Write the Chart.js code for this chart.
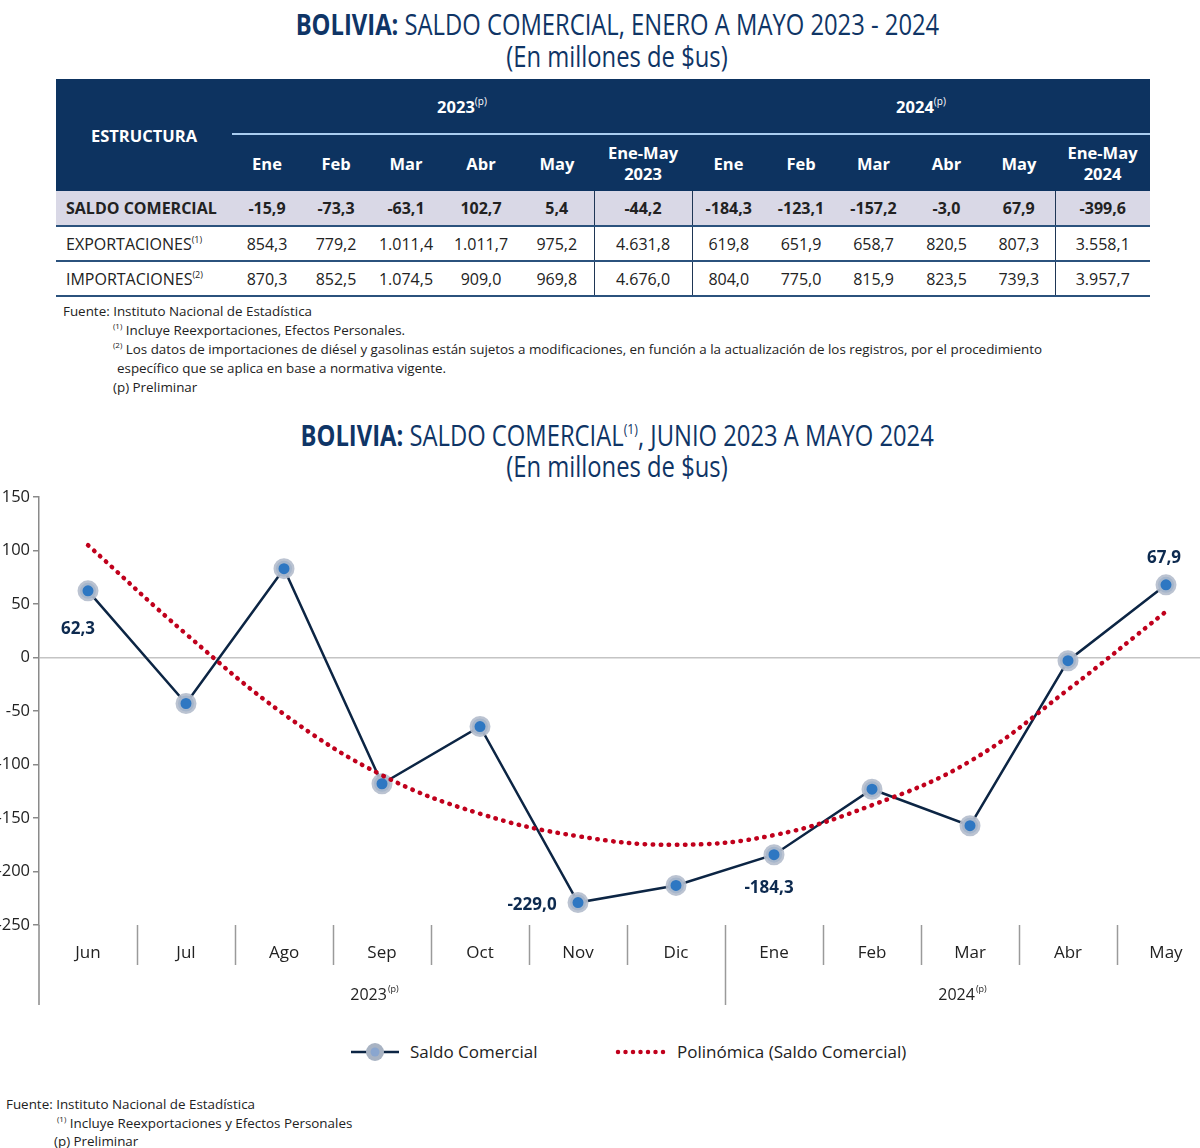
<!DOCTYPE html>
<html lang="es">
<head>
<meta charset="utf-8">
<title>Bolivia: Saldo Comercial</title>
<script src="https://cdn.jsdelivr.net/npm/chart.js@4.4.1/dist/chart.umd.min.js"></script>
<style>
  html, body { margin: 0; padding: 0; }
  body { width: 1200px; height: 1148px; overflow: hidden; position: relative; background: #fff;
         font-family: 'Open Sans', sans-serif; color: #222; }
  .title { position: absolute; left: 0; width: 1234px; text-align: center; color: #0f3566;
           font-size: 29px; line-height: 32px; white-space: nowrap; }
  .title .sq { display: inline-block; transform: scaleX(0.82); transform-origin: center; }
  .title sup { font-size: 15px; vertical-align: 12px; line-height: 0; }
  sup { line-height: 0; }

  #tabla { position: absolute; left: 56px; top: 79px; width: 1094px; border-collapse: collapse;
           table-layout: fixed; font-size: 16px; }
  #tabla th { background: #0d3360; color: #fff; font-weight: 700; font-size: 16.5px; padding: 0; }
  #tabla th sup { font-size: 10px; font-weight: 400; vertical-align: 8px; }
  #tabla tr.h1 th { height: 54px; }
  #tabla th.yr { border-bottom: 2px solid #a9cdf0; }
  #tabla tr.h2 th { height: 56px; line-height: 21px; }
  #tabla td { text-align: center; height: 33px; padding: 0; border-bottom: 2px solid #2b527d; }
  #tabla td.name { text-align: left; padding-left: 10px; white-space: nowrap; }
  #tabla td.name sup { font-size: 9px; vertical-align: 7px; }
  #tabla tr.saldo td { background: #d9d8e6; font-weight: 700; height: 34px; }
  #tabla td.vl { border-left: 1.5px solid #1f3655; }

  .notes { position: absolute; font-size: 13.4px; line-height: 19px; white-space: nowrap; color: #222; }
  .notes div { position: relative; }
  .notes sup { font-size: 8px; vertical-align: 6px; }

  #chartBox { position: absolute; left: -10px; top: 480px; width: 1238px; height: 540px; }

  .legend { position: absolute; top: 1040px; left: 0; width: 1200px; height: 24px; font-size: 17px; }
  .legend .item { position: absolute; top: 0; height: 24px; line-height: 24px; white-space: nowrap; }
  .legend svg { position: absolute; top: 2px; }
</style>
</head>
<body>

<div class="title" style="top:8px"><span class="sq"><b>BOLIVIA:</b> SALDO COMERCIAL, ENERO A MAYO 2023 - 2024</span></div>
<div class="title" style="top:40px"><span class="sq">(En millones de $us)</span></div>

<table id="tabla"></table>

<div class="notes" style="left:63px; top:302px;">
  <div>Fuente: Instituto Nacional de Estadística</div>
  <div style="left:50px"><sup>(1)</sup> Incluye Reexportaciones, Efectos Personales.</div>
  <div style="left:50px"><sup>(2)</sup> Los datos de importaciones de diésel y gasolinas están sujetos a modificaciones, en función a la actualización de los registros, por el procedimiento</div>
  <div style="left:54px">específico que se aplica en base a normativa vigente.</div>
  <div style="left:50px">(p) Preliminar</div>
</div>

<div class="title" style="top:419px"><span class="sq"><b>BOLIVIA:</b> SALDO COMERCIAL<sup>(1)</sup>, JUNIO 2023 A MAYO 2024</span></div>
<div class="title" style="top:450px"><span class="sq">(En millones de $us)</span></div>

<div id="chartBox"><canvas id="chart-main"></canvas></div>

<div class="legend">
  <div class="item" style="left:351px">
    <svg width="48" height="20" viewBox="0 0 48 20">
      <line x1="0" y1="10" x2="48" y2="10" stroke="#0c2544" stroke-width="2.5"/>
      <circle cx="24" cy="10" r="9" fill="#a8b3c3"/>
      <circle cx="24" cy="10" r="4.5" fill="#8aa6cf"/>
    </svg>
    <span style="margin-left:59px">Saldo Comercial</span>
  </div>
  <div class="item" style="left:615px">
    <svg width="54" height="20" viewBox="0 0 54 20">
      <line x1="3" y1="10" x2="51" y2="10" stroke="#c0001c" stroke-width="4.5" stroke-linecap="round" stroke-dasharray="0 7.5"/>
    </svg>
    <span style="margin-left:62px">Polinómica (Saldo Comercial)</span>
  </div>
</div>

<div class="notes" style="left:6px; top:1095px; line-height:18.5px;">
  <div>Fuente: Instituto Nacional de Estadística</div>
  <div style="left:51px"><sup>(1)</sup> Incluye Reexportaciones y Efectos Personales</div>
  <div style="left:48px">(p) Preliminar</div>
</div>

<script>
// ---- table data ----
const tablaMeses = ['Ene', 'Feb', 'Mar', 'Abr', 'May'];
const tablaAnios = ['2023', '2024'];
const saldoTabla = ['-15,9', '-73,3', '-63,1', '102,7', '5,4', '-44,2', '-184,3', '-123,1', '-157,2', '-3,0', '67,9', '-399,6'];
const exportaciones = ['854,3', '779,2', '1.011,4', '1.011,7', '975,2', '4.631,8', '619,8', '651,9', '658,7', '820,5', '807,3', '3.558,1'];
const importaciones = ['870,3', '852,5', '1.074,5', '909,0', '969,8', '4.676,0', '804,0', '775,0', '815,9', '823,5', '739,3', '3.957,7'];

// ---- chart data ----
const months = ['Jun', 'Jul', 'Ago', 'Sep', 'Oct', 'Nov', 'Dic', 'Ene', 'Feb', 'Mar', 'Abr', 'May'];
const years = ['2023', '2024'];
const monthsPerYear = [7, 5];
const saldo = [62.3, -43.0, 83.0, -118.0, -64.5, -229.0, -213.0, -184.3, -123.1, -157.2, -3.0, 67.9];
const tendencia = [105, 22, -53, -110, -146, -167, -175, -166, -138, -97, -30, 43];
const labeledPoints = [0, 5, 7, 11];
const yMin = -250, yMax = 150, yStep = 50;

// build table
const colW = [176, 70, 68, 72, 78, 74, 98, 73, 72, 73, 73, 72, 95];
let html = '<colgroup>' + colW.map(w => `<col style="width:${w}px">`).join('') + '</colgroup>';
html += '<thead><tr class="h1"><th rowspan="2">ESTRUCTURA</th>' +
  tablaAnios.map(y => `<th class="yr" colspan="6">${y}<sup>(p)</sup></th>`).join('') + '</tr>';
html += '<tr class="h2">' + tablaAnios.map(y =>
  tablaMeses.map(m => `<th>${m}</th>`).join('') + `<th>Ene-May<br>${y}</th>`).join('') + '</tr></thead><tbody>';
const rows = [
  { name: 'SALDO COMERCIAL', sup: '', vals: saldoTabla, cls: 'saldo' },
  { name: 'EXPORTACIONES', sup: '(1)', vals: exportaciones, cls: '' },
  { name: 'IMPORTACIONES', sup: '(2)', vals: importaciones, cls: '' }
];
rows.forEach(r => {
  html += `<tr class="${r.cls}"><td class="name">${r.name}${r.sup ? '<sup>' + r.sup + '</sup>' : ''}</td>` +
    r.vals.map((v, i) => `<td class="${(i === 5 || i === 6 || i === 11) ? 'vl' : ''}">${v}</td>`).join('') + '</tr>';
});
html += '</tbody>';
document.getElementById('tabla').innerHTML = html;

// ---- chart ----
Chart.defaults.font.family = "'Open Sans', sans-serif";
Chart.defaults.color = '#222';

const fmt = v => v.toFixed(1).replace('.', ',');
const labelOffsets = { 0: [-10, 38], 5: [-46, 3], 7: [-5, 33], 11: [-2, -27] };

const decor = {
  id: 'decor',
  afterDatasetsDraw(chart) {
    const { ctx } = chart;
    const meta = chart.getDatasetMeta(0);
    ctx.save();
    ctx.font = "bold 17px 'Open Sans', sans-serif";
    ctx.fillStyle = '#0d2a4f';
    ctx.textAlign = 'center';
    ctx.textBaseline = 'middle';
    labeledPoints.forEach(i => {
      const p = meta.data[i];
      const [dx, dy] = labelOffsets[i];
      ctx.fillText(fmt(saldo[i]), p.x + dx, p.y + dy);
    });
    ctx.restore();
  },
  afterDraw(chart) {
    const { ctx, chartArea: a, scales: { x } } = chart;
    ctx.save();
    ctx.strokeStyle = '#9a9a9a';
    ctx.lineWidth = 1.5;
    // category separators below the plot
    const boundary = monthsPerYear[0] - 1;
    for (let i = 0; i < months.length - 1; i++) {
      const sx = Math.round((x.getPixelForValue(i) + x.getPixelForValue(i + 1)) / 2) + 0.5;
      ctx.beginPath();
      ctx.moveTo(sx, a.bottom);
      ctx.lineTo(sx, a.bottom + (i === boundary ? 80 : 40));
      ctx.stroke();
    }
    // y axis extension down to the year row
    ctx.strokeStyle = '#8a8a8a';
    ctx.beginPath();
    ctx.moveTo(a.left, a.bottom);
    ctx.lineTo(a.left, a.bottom + 80);
    ctx.stroke();
    // year labels
    let start = 0;
    years.forEach((y, k) => {
      const end = start + monthsPerYear[k] - 1;
      const cx = (x.getPixelForValue(start) + x.getPixelForValue(end)) / 2 - 8;
      ctx.font = "16px 'Open Sans', sans-serif";
      const w1 = ctx.measureText(y).width;
      ctx.font = "9px 'Open Sans', sans-serif";
      const w2 = ctx.measureText('(p)').width;
      const left = cx - (w1 + w2) / 2;
      ctx.fillStyle = '#222';
      ctx.textAlign = 'left';
      ctx.textBaseline = 'middle';
      ctx.font = "16px 'Open Sans', sans-serif";
      ctx.fillText(y, left, a.bottom + 70);
      ctx.font = "9px 'Open Sans', sans-serif";
      ctx.fillText('(p)', left + w1 + 1, a.bottom + 64);
      start = end + 1;
    });
    ctx.restore();
  }
};

new Chart(document.getElementById('chart-main'), {
  type: 'line',
  data: {
    labels: months,
    datasets: [
      {
        label: 'Saldo Comercial',
        data: saldo,
        borderColor: '#0c2544',
        borderWidth: 2.5,
        tension: 0,
        pointRadius: 8,
        pointHoverRadius: 8,
        pointBackgroundColor: '#2e77c2',
        pointBorderColor: 'rgba(180,189,204,0.9)',
        pointBorderWidth: 5,
        order: 1
      },
      {
        label: 'Polinómica (Saldo Comercial)',
        data: tendencia,
        borderColor: '#c0001c',
        borderWidth: 4.5,
        borderDash: [0.5, 7.5],
        borderCapStyle: 'round',
        pointRadius: 0,
        tension: 0.4,
        order: 0
      }
    ]
  },
  options: {
    responsive: true,
    maintainAspectRatio: false,
    animation: false,
    layout: { padding: { top: 17, right: 6, bottom: 0, left: 0 } },
    plugins: { legend: { display: false }, tooltip: { enabled: false } },
    scales: {
      x: {
        offset: true,
        grid: { display: false, drawTicks: false },
        border: { display: false },
        ticks: { padding: 18, font: { size: 17 }, color: '#222', maxRotation: 0, autoSkip: false },
        afterFit: s => { s.height = 95; }
      },
      y: {
        min: yMin,
        max: yMax,
        ticks: { stepSize: yStep, padding: 3, font: { size: 16.5 }, color: '#222' },
        grid: {
          drawOnChartArea: true,
          color: c => (c.tick && c.tick.value === 0) ? '#c4c4c4' : 'rgba(0,0,0,0)',
          lineWidth: 1.5,
          tickColor: '#8a8a8a',
          tickLength: 6
        },
        border: { display: true, color: '#8a8a8a', width: 1.5 },
        afterFit: s => { s.width = 49; }
      }
    }
  },
  plugins: [decor]
});
</script>
</body>
</html>
